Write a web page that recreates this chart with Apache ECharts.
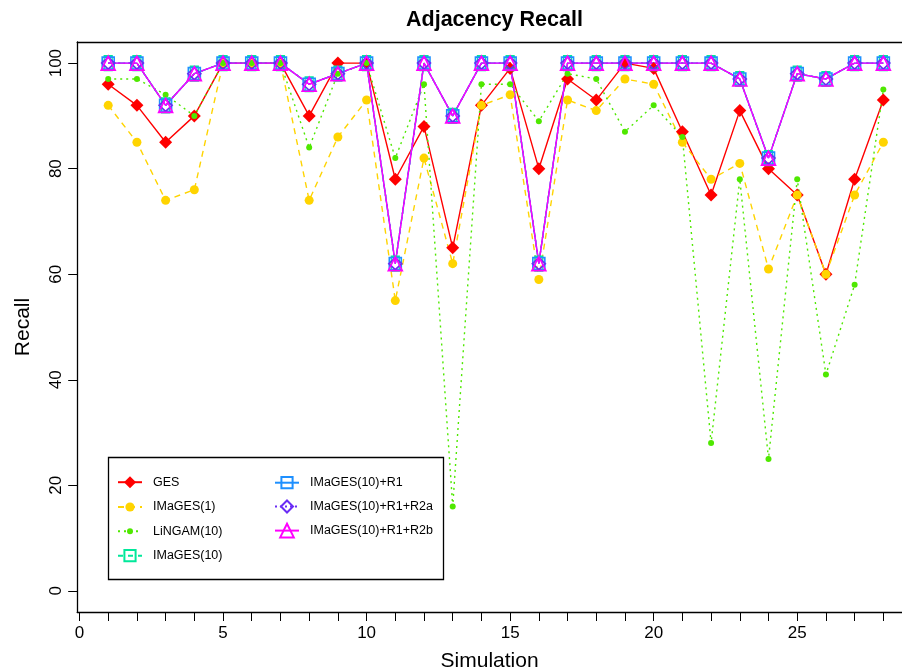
<!DOCTYPE html>
<html><head><meta charset="utf-8">
<script src="https://cdn.jsdelivr.net/npm/echarts@6/dist/echarts.min.js"></script>
<style>html,body{margin:0;padding:0;background:#fff}#c{width:902px;height:671px}</style>
</head><body><div id="c"></div>
<script>
// ---- data ----
const simulations = [1,2,3,4,5,6,7,8,9,10,11,12,13,14,15,16,17,18,19,20,21,22,23,24,25,26,27,28];
const ges        = [96,92,85,90,100,100,100,90,100,100,78,88,65,92,99,80,97,93,100,99,87,75,91,80,75,60,78,93];
const images1    = [92,85,74,76,100,100,100,74,86,93,55,82,62,92,94,59,93,91,97,96,85,78,81,61,75,60,75,85];
const lingam10   = [97,97,94,90,100,100,100,84,98,100,82,96,16,96,96,89,98,97,87,92,86,28,78,25,78,41,58,95];
const images10   = [100,100,92,98,100,100,100,96,98,100,62,100,90,100,100,62,100,100,100,100,100,100,97,82,98,97,100,100];
const images10R1    = [100,100,92,98,100,100,100,96,98,100,62,100,90,100,100,62,100,100,100,100,100,100,97,82,98,97,100,100];
const images10R1R2a = [100,100,92,98,100,100,100,96,98,100,62,100,90,100,100,62,100,100,100,100,100,100,97,82,98,97,100,100];
const images10R1R2b = [100,100,92,98,100,100,100,96,98,100,62,100,90,100,100,62,100,100,100,100,100,100,97,82,98,97,100,100];
const xTicks = [0,1,2,3,4,5,6,7,8,9,10,11,12,13,14,15,16,17,18,19,20,21,22,23,24,25,26,27,28];
const xTickLabels = [0,5,10,15,20,25];
const yTickLabels = [0,20,40,60,80,100];
const seriesNames = ['GES','IMaGES(1)','LiNGAM(10)','IMaGES(10)','IMaGES(10)+R1','IMaGES(10)+R1+R2a','IMaGES(10)+R1+R2b'];

const FONT = '"Liberation Sans", Arial, Helvetica, sans-serif';
function pairs(vals){ return simulations.map((s,i)=>[s, vals[i]]); }
function mk(name, vals, color, type, symbol, size, filled, lw){
  return {
    name, type:'line', data: pairs(vals), symbol, symbolSize:size,
    lineStyle:{color, width: lw||1.4, type},
    itemStyle: filled ? {color} : {color:'rgba(255,255,255,0)', borderColor:color, borderWidth:1.6},
    emphasis:{disabled:true}, animation:false, clip:false
  };
}
// legend rows: [name, column left, row center, icon height]
const legendRows = [
  [seriesNames[0], 117, 482.7, 15],
  [seriesNames[1], 117, 507, 11.5],
  [seriesNames[2], 117, 531.3, 7.5],
  [seriesNames[3], 117, 555.7, 14],
  [seriesNames[4], 274, 482.7, 14],
  [seriesNames[5], 274, 507, 15],
  [seriesNames[6], 274, 531.3, 17]
];
const legends = legendRows.map(([n, l, c, h]) => ({
  data:[n], orient:'vertical', left:l, top:c - Math.max(h,14)/2, padding:0,
  itemWidth:24, itemHeight:h, z:5, selectedMode:false,
  textStyle:{fontSize:12.5, color:'#000', fontFamily:FONT, padding:[0,0,0,6], lineHeight:14}
}));

const chart = echarts.init(document.getElementById('c'), null, {renderer:'canvas'});
const axisCommon = {
  axisLine:{show:true, onZero:false, lineStyle:{color:'#000', width:1.3}},
  splitLine:{show:false}
};
chart.setOption({
  backgroundColor:'#fff',
  animation:false,
  textStyle:{fontFamily:FONT},
  title:{text:'Adjacency Recall', left:406, top:9, padding:0,
    textStyle:{fontFamily:FONT, fontSize:21.5, fontWeight:'bold', color:'#000'}},
  grid:{left:77.2, right:0, top:42, bottom:59, containLabel:false, outerBoundsMode:'none'},
  xAxis:[{
    type:'value', min:-0.08, max:28.65, position:'bottom',
    ...axisCommon,
    axisTick:{show:true, length:9, customValues:xTicks, lineStyle:{color:'#000', width:1}},
    axisLabel:{show:true, customValues:xTickLabels, margin:13, fontSize:17, color:'#000', fontFamily:FONT},
    name:'Simulation', nameLocation:'middle', nameGap:39,
    nameTextStyle:{fontSize:21, color:'#000', fontFamily:FONT}
  },{
    type:'value', min:-0.08, max:28.65, position:'top',
    ...axisCommon, axisTick:{show:false}, axisLabel:{show:false}
  }],
  yAxis:{
    type:'value', min:-4, max:104, position:'left',
    ...axisCommon,
    axisTick:{show:true, length:9, customValues:yTickLabels, lineStyle:{color:'#000', width:1}},
    axisLabel:{show:true, customValues:yTickLabels, rotate:90, margin:12, fontSize:17, color:'#000', fontFamily:FONT},
    name:'Recall', nameLocation:'middle', nameGap:43, nameRotate:90,
    nameTextStyle:{fontSize:21, color:'#000', fontFamily:FONT}
  },
  graphic:[{type:'rect', z:3, shape:{x:108.5, y:457.5, width:335, height:122},
    style:{fill:'#fff', stroke:'#000', lineWidth:1.3}}],
  legend: legends,
  series:[
    mk(seriesNames[0], ges, '#ff0000', 'solid', 'diamond', [13,13], true, 1.4),
    mk(seriesNames[1], images1, '#ffd400', [6,5], 'circle', 9, true, 1.4),
    mk(seriesNames[2], lingam10, '#4fe800', [2,4], 'circle', 6, true, 1.4),
    mk(seriesNames[3], images10, '#00e89a', [5,5], 'rect', [8,14], false, 1.4),
    mk(seriesNames[4], images10R1, '#1e90ff', 'solid', 'rect', [12,12], false, 1.4),
    mk(seriesNames[5], images10R1R2a, '#6a2cf5', [2,3], 'diamond', [13,12], false, 1.4),
    mk(seriesNames[6], images10R1R2b, '#ff00ff', 'solid', 'triangle', [14,14], false, 1.4)
  ]
});
</script></body></html>
